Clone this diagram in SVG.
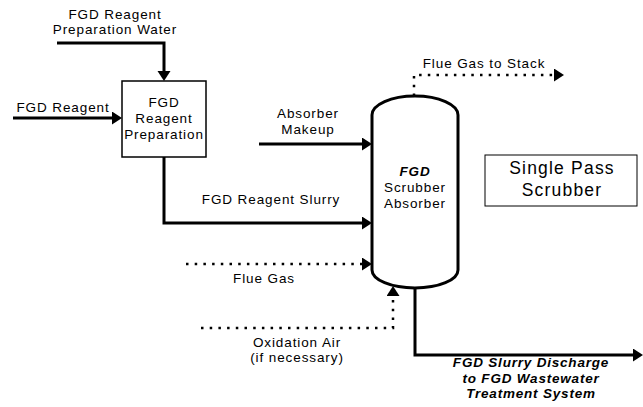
<svg xmlns="http://www.w3.org/2000/svg" width="643" height="407" viewBox="0 0 643 407">
<style>
text{font-family:"Liberation Sans",Arial,sans-serif;font-size:13.5px;letter-spacing:0.9px;fill:#000;text-anchor:middle}
.bi{font-weight:bold;font-style:italic;letter-spacing:0.8px}
.big{font-size:17.5px;letter-spacing:1.2px}
.solid{fill:none;stroke:#000;stroke-width:3;marker-end:url(#ah)}
.dot{fill:none;stroke:#000;stroke-width:2.5;stroke-dasharray:2.5 6.2;marker-end:url(#ah)}
.box{fill:#fff;stroke:#000;stroke-width:1.5}
</style>
<defs>
<marker id="ah" markerUnits="userSpaceOnUse" markerWidth="12" markerHeight="14" refX="2" refY="6.5" orient="auto" viewBox="0 0 12 14">
<path d="M0,0 L10,6.5 L0,13 Z" fill="#000"/>
</marker>
</defs>
<rect width="643" height="407" fill="#fff"/>
<g id="connectors">
<path class="solid" d="M57,43 H164 V73"/>
<path class="solid" d="M13,118 H114"/>
<path class="solid" d="M164,157 V223 H364"/>
<path class="solid" d="M259,144 H364"/>
<path class="dot" d="M186,264 H364"/>
<path class="dot" d="M201,328 H393 V294"/>
<path class="dot" d="M414,96 V75 H556"/>
<path class="solid" d="M415,288 V355 H635"/>
</g>
<g id="labels">
<text x="115" y="18.5">FGD Reagent</text>
<text x="115" y="33.5">Preparation Water</text>
<text x="63" y="112">FGD Reagent</text>
<text x="308" y="118">Absorber</text>
<text x="308" y="134">Makeup</text>
<text x="271" y="204">FGD Reagent Slurry</text>
<text x="264" y="283">Flue Gas</text>
<text x="297" y="347">Oxidation Air</text>
<text x="297" y="362">(if necessary)</text>
<text x="484" y="68">Flue Gas to Stack</text>
<text class="bi" x="531" y="367">FGD Slurry Discharge</text>
<text class="bi" x="531" y="382.5">to FGD Wastewater</text>
<text class="bi" x="531" y="398">Treatment System</text>
</g>
<g id="reagent-prep">
<rect class="box" x="122" y="81" width="84" height="76"/>
<text x="164" y="107">FGD</text>
<text x="164" y="123">Reagent</text>
<text x="164" y="139">Preparation</text>
</g>
<g id="absorber">
<path d="M372,115 A43,19 0 0 1 458,115 L458,270 A43,18 0 0 1 372,270 Z" fill="#fff" stroke="#000" stroke-width="3"/>
<text class="bi" x="415" y="176">FGD</text>
<text x="415" y="192">Scrubber</text>
<text x="415" y="208">Absorber</text>
</g>
<g id="single-pass">
<rect x="485" y="155" width="152" height="51" fill="#fff" stroke="#000" stroke-width="1"/>
<text class="big" x="562" y="174">Single Pass</text>
<text class="big" x="562" y="196">Scrubber</text>
</g>
</svg>
